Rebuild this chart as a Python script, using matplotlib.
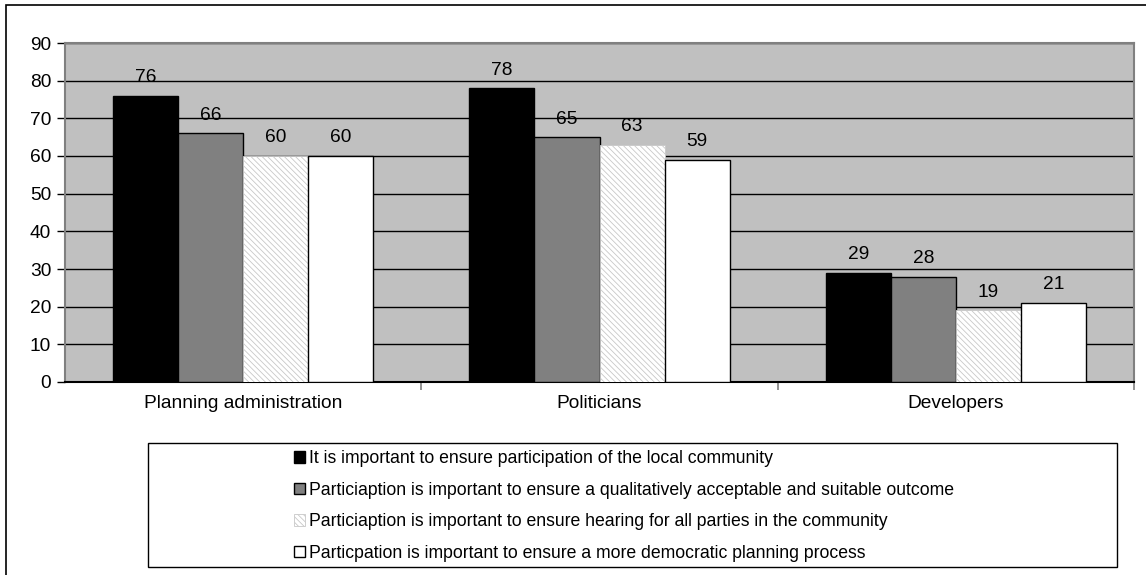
import matplotlib
matplotlib.use("Agg")
import matplotlib.pyplot as plt
import numpy as np
from matplotlib.patches import Rectangle

plt.rcParams['font.family'] = ['Liberation Sans', 'DejaVu Sans']
plt.rcParams['hatch.linewidth'] = 0.6

categories = ["Planning administration", "Politicians", "Developers"]
series_names = [
    "It is important to ensure participation of the local community",
    "Particiaption is important to ensure a qualitatively acceptable and suitable outcome",
    "Particiaption is important to ensure hearing for all parties in the community",
    "Particpation is important to ensure a more democratic planning process",
]
values = [
    [76, 78, 29],
    [66, 65, 28],
    [60, 63, 19],
    [60, 59, 21],
]
yticks = [0, 10, 20, 30, 40, 50, 60, 70, 80, 90]

W, H = 1146, 575
fig = plt.figure(figsize=(W / 100, H / 100), dpi=100)
ax = fig.add_axes([65 / W, 1 - 382 / H, (1134 - 65) / W, (382 - 43) / H])
ax.set_facecolor('#c0c0c0')

styles = [
    dict(color='#000000', edgecolor='#000000', linewidth=1.0),
    dict(color='#808080', edgecolor='#000000', linewidth=1.0),
    dict(facecolor='#ffffff', edgecolor='#c8c8c8', hatch='\\\\\\\\\\\\', linewidth=0.6),
    dict(color='#ffffff', edgecolor='#000000', linewidth=1.0),
]

FS = 13.8
x = np.arange(len(categories))
bw = 65 / 356.3
offsets = [-1.5, -0.5, 0.5, 1.5]
handles = []
for i, (vals, st) in enumerate(zip(values, styles)):
    bars = ax.bar(x + offsets[i] * bw, vals, width=bw, zorder=3, label=series_names[i], **st)
    handles.append(bars)
    for xi, v in zip(x + offsets[i] * bw, vals):
        ax.text(xi, v + 4.8, str(v), ha='center', va='center', fontsize=FS, color='#000000')

ax.set_xlim(-0.5, 2.5)
ax.set_ylim(0, 90)
ax.set_yticks(yticks)
ax.set_yticklabels([str(t) for t in yticks], fontsize=FS)
ax.yaxis.grid(True, color='#000000', linewidth=1.0, zorder=1)
ax.set_axisbelow(True)

ax.set_xticks([0.5, 1.5, 2.5])
ax.set_xticklabels([])
ax.tick_params(axis='x', which='major', length=6, color='#808080', width=1.2)
ax.set_xticks(x, minor=True)
ax.set_xticklabels(categories, minor=True, fontsize=FS)
ax.tick_params(axis='x', which='minor', length=0, pad=9)
ax.tick_params(axis='y', length=6, width=1.0, color='#000000', pad=4)

for s in ['top', 'right']:
    ax.spines[s].set_color('#808080')
    ax.spines[s].set_linewidth(1.5)
ax.spines['left'].set_color('#808080')
ax.spines['left'].set_linewidth(1.5)
ax.spines['bottom'].set_color('#000000')
ax.spines['bottom'].set_linewidth(1.5)

# outer chart border
fig.add_artist(Rectangle((6 / W, -0.01), 1.02, 1 - 5 / H + 0.01, transform=fig.transFigure,
                         fill=False, edgecolor='#000000', linewidth=1.2))
# legend box
fig.add_artist(Rectangle((148 / W, 1 - 567 / H), (1117 - 148) / W, (567 - 443) / H,
                         transform=fig.transFigure, fill=False, edgecolor='#000000', linewidth=1.0))

leg = fig.legend(handles=handles, labels=series_names, loc='center',
                 bbox_to_anchor=(624 / W, 1 - 506 / H), frameon=False, fontsize=12.7,
                 handlelength=0.6, handleheight=0.6, handletextpad=0.2, labelspacing=0.82)

fig.savefig('out.png', dpi=100)
